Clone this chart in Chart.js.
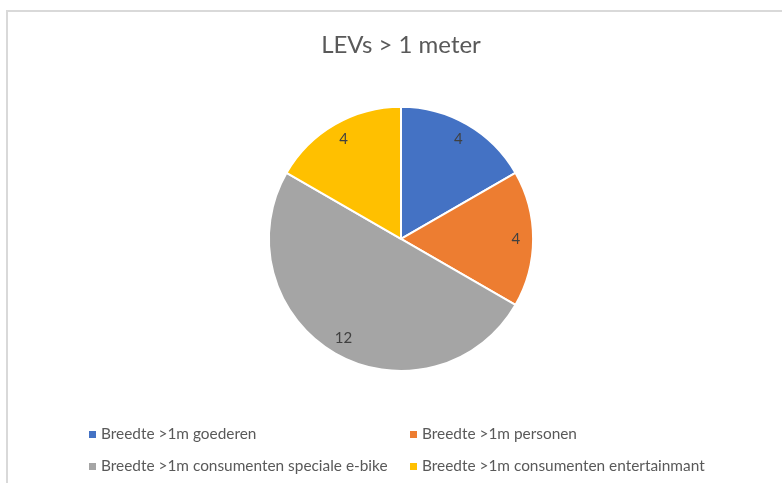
<!DOCTYPE html>
<html>
<head>
<meta charset="utf-8">
<script src="https://cdn.jsdelivr.net/npm/chart.js@4"></script>
<style>
  html, body { margin: 0; padding: 0; background: #fff; }
  #wrap { position: relative; width: 782px; height: 483px; overflow: hidden; }
  #frame { position: absolute; left: 6px; top: 10px; width: 800px; height: 500px;
           border-left: 2px solid #d9d9d9; border-top: 2px solid #d9d9d9; }
  canvas { position: absolute; left: 0; top: 0; }
  .legend { position: absolute; font-family: Lato, sans-serif; font-size: 15.4px; color: #595959;
            white-space: nowrap; }
  .legend span.box { display: inline-block; width: 7px; height: 7px; margin-right: 5px;
                     vertical-align: 1px; }
</style>
</head>
<body>
<div id="wrap">
  <div id="frame"></div>
  <canvas id="pie" width="782" height="483"></canvas>
</div>
<script>
// chart data
const title = "LEVs > 1 meter";
const categories = [
  "Breedte >1m goederen",
  "Breedte >1m personen",
  "Breedte >1m consumenten speciale e-bike",
  "Breedte >1m consumenten entertainmant"
];
const values = [4, 4, 12, 4];
const colors = ["#4472C4", "#ED7D31", "#A5A5A5", "#FFC000"];

// legend grid positions (left, top) for each entry
const legendPos = [[89, 424], [410, 424], [89, 456], [410, 456]];

// data labels drawn inside slices
const sliceLabels = {
  id: "sliceLabels",
  afterDatasetsDraw(chart) {
    const ctx = chart.ctx;
    const meta = chart.getDatasetMeta(0);
    ctx.save();
    ctx.font = "15px Lato, sans-serif";
    ctx.fillStyle = "#404040";
    ctx.textAlign = "center";
    ctx.textBaseline = "middle";
    meta.data.forEach((arc, i) => {
      const p = arc.getProps(["x", "y", "startAngle", "endAngle", "outerRadius"], true);
      const mid = (p.startAngle + p.endAngle) / 2;
      const r = p.outerRadius * 0.87;
      ctx.fillText(String(values[i]), p.x + Math.cos(mid) * r, p.y + Math.sin(mid) * r);
    });
    ctx.restore();
  }
};

new Chart(document.getElementById("pie"), {
  type: "pie",
  data: {
    labels: categories,
    datasets: [{
      data: values,
      backgroundColor: colors,
      borderColor: "#ffffff",
      borderWidth: 2
    }]
  },
  options: {
    responsive: false,
    animation: false,
    layout: { padding: { left: 30, right: 10, top: 0, bottom: 111 } },
    plugins: {
      legend: { display: false },
      tooltip: { enabled: false },
      title: {
        display: true,
        text: title,
        color: "#595959",
        font: { family: "Lato, sans-serif", size: 24, weight: "normal" },
        padding: { top: 31, bottom: 46 }
      }
    }
  },
  plugins: [sliceLabels]
});

// legend as html, two columns
const wrap = document.getElementById("wrap");
categories.forEach((name, i) => {
  const el = document.createElement("div");
  el.className = "legend";
  el.style.left = legendPos[i][0] + "px";
  el.style.top = legendPos[i][1] + "px";
  el.innerHTML = '<span class="box" style="background:' + colors[i] + '"></span>' + name;
  wrap.appendChild(el);
});
</script>
</body>
</html>
